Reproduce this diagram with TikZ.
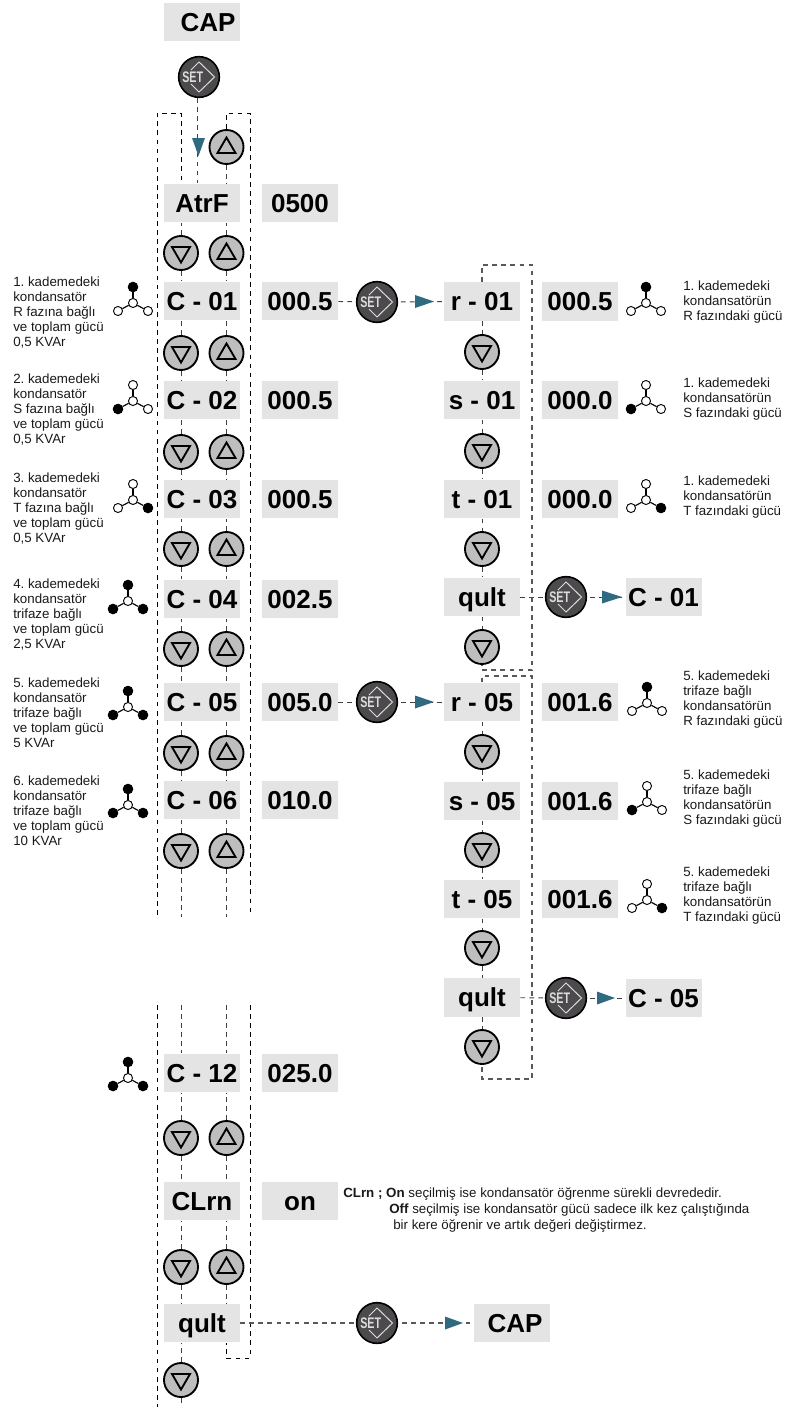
\documentclass[tikz,border=0pt]{standalone}
\usepackage{fontspec}
\setmainfont{Liberation Sans}
\definecolor{boxgrey}{HTML}{E4E4E4}
\definecolor{btngrey}{HTML}{BEBEBE}
\definecolor{setdark}{HTML}{4C4A4C}
\definecolor{setline}{HTML}{DCDCDC}
\definecolor{tealtri}{HTML}{2F6A80}
\tikzset{
  labelbox/.style={fill=boxgrey,minimum width=57pt,minimum height=29pt,inner sep=0pt,text height=14pt,text depth=0pt,font=\fontsize{19.5}{22}\selectfont\bfseries,text=black},
  navbtn/.style={circle,draw=black,line width=1.4pt,fill=btngrey,minimum size=25.5pt,inner sep=0pt},
  navtri/.style={draw=black,line width=1.4pt,line join=miter},
  setbtn/.style={circle,draw=black,line width=1.2pt,fill=setdark,minimum size=30.5pt,inner sep=0pt},
  setdia/.style={draw=setline,line width=0.75pt},
  settxt/.style={inner sep=0pt,text=setline,font=\fontsize{11.5}{12}\selectfont\bfseries},
  dsh/.style={draw=black!75,line width=0.7pt,dash pattern=on 3.6pt off 3.2pt},
  dso/.style={draw=black,line width=0.7pt,dash pattern=on 3.6pt off 3.2pt},
  dsr/.style={draw=black!65,line width=0.85pt,dash pattern=on 3.6pt off 3.2pt},
  note/.style={inner sep=0pt,anchor=north west,align=left,font=\fontsize{10}{11.1}\selectfont,text=black!90},
  wopen/.style={circle,draw=black,line width=0.7pt,fill=white,minimum size=6.8pt,inner sep=0pt},
  wfull/.style={circle,draw=black,line width=0.7pt,fill=black,minimum size=7.2pt,inner sep=0pt},
  wline/.style={draw=black,line width=0.85pt},
}
\newcommand{\btndn}[3]{%
  \node[navbtn] (#1) at (#2,#3) {};
  \draw[navtri,shift={(#1.center)}] (0,9.5) -- (9,-6) -- (-9,-6) -- cycle;}
\newcommand{\btnup}[3]{%
  \node[navbtn] (#1) at (#2,#3) {};
  \draw[navtri,shift={(#1.center)}] (0,-9.5) -- (9,6) -- (-9,6) -- cycle;}
\newcommand{\setb}[3]{%
  \node[setbtn] (#1) at (#2,#3) {};
  \draw[setdia,shift={(#1.center)}] (-8,-7) -- (0,-15) -- (15.5,0) -- (0,15) -- (-8,7);
  \node[settxt] (#1t) at ([xshift=-4.7pt]#1.center) {\scalebox{0.7}[1]{SET}};}
\newcommand{\wye}[6]{%
  \node[wopen] (#1c) at (#2,#3) {};
  \node[#4] (#1a) at (#2,#3-16) {};
  \node[#5] (#1b) at (#2-15,#3+8) {};
  \node[#6] (#1d) at (#2+15,#3+8) {};
  \draw[wline] (#1c) -- (#1a);
  \draw[wline] (#1c) -- (#1b);
  \draw[wline] (#1c) -- (#1d);}
\newcommand{\crow}[5]{%
  \node[labelbox] (c#1) at (202,#4) {#2};
  \node[labelbox] (v#1) at (300,#4) {#3};
  \btndn{d#1}{181}{#5}
  \btnup{u#1}{226.5}{#5}
  \draw[dsh] (d#1.north) -- (d#1.north |- c#1.south);
  \draw[dsh] (u#1.north) -- (u#1.north |- c#1.south);}
\newcommand{\lnk}[2]{\draw[dsh] (#1.south) -- (#1.south |- #2.north);}
\newcommand{\trir}[3]{\fill[tealtri] (#2,#3-6.5) -- (#2+#1,#3) -- (#2,#3+6.5) -- cycle;}
\begin{document}
\frenchspacing
\begin{tikzpicture}[x=0.75pt,y=-0.75pt]
\useasboundingbox (0,0) rectangle (786,1407);
% top
\node[labelbox] (cap0) at (202,22) {\hspace{9pt}CAP};
\setb{set0}{199}{77}
\btnup{ut}{226.5}{147}
% left column rows
\node[labelbox] (cA) at (202,203) {AtrF\hspace{9pt}};
\node[labelbox] (vA) at (300,203) {0500};
\btndn{dA}{181}{253}
\btnup{uA}{226.5}{253}
\draw[dsh] (dA.north) -- (dA.north |- cA.south);
\draw[dsh] (uA.north) -- (uA.north |- cA.south);
\crow{01}{C - 01}{000.5}{301}{353}
\crow{02}{C - 02}{000.5}{400}{452}
\crow{03}{C - 03}{000.5}{499}{549}
\crow{04}{C - 04}{002.5}{599}{649}
\crow{05}{C - 05}{005.0}{702}{753}
\crow{06}{C - 06}{010.0}{800}{851}
\crow{12}{C - 12}{025.0}{1073}{1138}
\crow{L}{CLrn}{on}{1201}{1267}
\node[labelbox] (cQ) at (202,1323) {qult};
\btndn{dQ}{181}{1380}
\draw[dsh] (dQ.north) -- (dQ.north |- cQ.south);
\foreach \a/\b in {dA/c01,uA/c01,d01/c02,u01/c02,d02/c03,u02/c03,d03/c04,u03/c04,d04/c05,u04/c05,d05/c06,u05/c06,d12/cL,u12/cL,dL/cQ,uL/cQ}{\lnk{\a}{\b}}
% outer loops, left column
\coordinate (ltl) at (157,113);
\coordinate (ltr) at (181,113);
\coordinate (rtl) at (226.5,113);
\coordinate (rtr) at (250,113);
\coordinate (lb1) at (157,915);
\coordinate (rb1) at (250,915);
\coordinate (lt2) at (157,1005);
\coordinate (rt2) at (250,1005);
\coordinate (lb2) at (157,1407);
\coordinate (mb2) at (181,1407);
\coordinate (rb2) at (250,1358);
\coordinate (qr2) at (226.5,1358);
\coordinate (ce1) at (181,917);
\coordinate (ce2) at (226.5,917);
\coordinate (cs1) at (181,1005);
\coordinate (cs2) at (226.5,1005);
\coordinate (setx) at (197,0);
\draw[dso] (lb1) -- (ltl) -- (ltr) -- (ltr |- cA.north);
\draw[dso] (ut.north) -- (rtl) -- (rtr) -- (rb1);
\draw[dsh] (ut.south) -- (ut.south |- cA.north);
\draw[dsh] (d06.south) -- (ce1);
\draw[dsh] (u06.south) -- (ce2);
\draw[dsh] (cs1) -- (cs1 |- c12.north);
\draw[dsh] (cs2) -- (cs2 |- c12.north);
\draw[dso] (lt2) -- (lb2);
\draw[dso] (rt2) -- (rb2) -- (qr2) -- (qr2 |- cQ.south);
\draw[dsh] (dQ.south) -- (mb2);
\draw[dsh] (set0.south -| setx) -- (cA.north -| setx);
\fill[tealtri] (192,138) -- (205,138) -- (198.5,156) -- cycle;
% first branch
\setb{s1}{377}{302}
\node[labelbox] (r01) at (482,301.5) {r - 01};
\node[labelbox] (s01) at (482,400) {s - 01};
\node[labelbox] (t01) at (482,499) {t - 01};
\node[labelbox] (q01) at (482,597) {qult};
\btndn{dr1}{482}{352}
\btndn{ds1}{482}{451}
\btndn{dt1}{482}{549}
\btndn{dq1}{482}{647}
\node[labelbox] (vr1) at (580,301.5) {000.5};
\node[labelbox] (vs1) at (580,400) {000.0};
\node[labelbox] (vt1) at (580,499) {000.0};
\setb{s2}{566}{597}
\node[labelbox] (c01b) at (663.5,597) {C - 01};
\draw[dsh] (v01) -- (s1);
\draw[dsh,shorten <=2pt] (s1) -- (r01);
\trir{19}{415}{301.5}
\draw[dsh] (q01) -- (s2);
\draw[dsh,shorten <=2pt] (s2) -- (c01b);
\trir{20}{602}{597}
\foreach \a/\b in {r01/dr1,s01/ds1,t01/dt1,q01/dq1}{\draw[dsh] (\a.south) -- (\b.north);}
\foreach \a/\b in {dr1/s01,ds1/t01,dt1/q01}{\draw[dsh] (\a.south) -- (\b.north);}
\coordinate (b1a) at (482,265);
\coordinate (b1b) at (532,265);
\coordinate (b1c) at (532,670);
\coordinate (b1d) at (482,670);
\draw[dsr] (r01.north) -- (b1a) -- (b1b) -- (b1c) -- (b1d) -- (dq1.south);
% second branch
\setb{s3}{377}{702}
\node[labelbox] (r05) at (482,702) {r - 05};
\node[labelbox] (s05) at (482,801) {s - 05};
\node[labelbox] (t05) at (482,899) {t - 05};
\node[labelbox] (q05) at (482,997.5) {qult};
\btndn{dr5}{482}{752}
\btndn{ds5}{482}{850}
\btndn{dt5}{482}{948}
\btndn{dq5}{482}{1047}
\node[labelbox] (vr5) at (580,702) {001.6};
\node[labelbox] (vs5) at (580,801) {001.6};
\node[labelbox] (vt5) at (580,899) {001.6};
\setb{s4}{566}{998}
\node[labelbox] (c05b) at (663.5,998) {C - 05};
\draw[dsh] (v05) -- (s3);
\draw[dsh,shorten <=2pt] (s3) -- (r05);
\trir{19}{415}{702}
\draw[dsh] (q05) -- (s4);
\draw[dsh,shorten <=2pt] (s4) -- (c05b);
\trir{18}{597}{998}
\foreach \a/\b in {r05/dr5,s05/ds5,t05/dt5,q05/dq5}{\draw[dsh] (\a.south) -- (\b.north);}
\foreach \a/\b in {dr5/s05,ds5/t05,dt5/q05}{\draw[dsh] (\a.south) -- (\b.north);}
\coordinate (b2a) at (482,676);
\coordinate (b2b) at (532,676);
\coordinate (b2c) at (532,1079);
\coordinate (b2d) at (482,1079);
\draw[dsr] (r05.north) -- (b2a) -- (b2b) -- (b2c) -- (b2d) -- (dq5.south);
% last row
\setb{s5}{377}{1323}
\node[labelbox] (capb) at (512,1323) {\hspace{4.5pt}CAP};
\draw[dsr] (cQ) -- (s5);
\draw[dsr,shorten <=3pt] (s5) -- (capb);
\trir{18}{445}{1323}
% wye symbols
\wye{w1}{133}{303}{wfull}{wopen}{wopen}
\wye{w2}{133}{401}{wopen}{wfull}{wopen}
\wye{w3}{133}{500}{wopen}{wopen}{wfull}
\wye{w4}{128}{601}{wfull}{wfull}{wfull}
\wye{w5}{128}{707}{wfull}{wfull}{wfull}
\wye{w6}{128}{805}{wfull}{wfull}{wfull}
\wye{w7}{128}{1078}{wfull}{wfull}{wfull}
\wye{w8}{646}{303}{wfull}{wopen}{wopen}
\wye{w9}{646}{401}{wopen}{wfull}{wopen}
\wye{w10}{646}{500}{wopen}{wopen}{wfull}
\wye{w11}{647}{703}{wfull}{wopen}{wopen}
\wye{w12}{647}{802}{wopen}{wfull}{wopen}
\wye{w13}{647}{900}{wopen}{wopen}{wfull}
% left notes
\node[note] (n1) at (13,277) {1. kademedeki\\kondansatör\\R fazına bağlı\\ve toplam gücü\\0,5 KVAr};
\node[note] (n2) at (13,374) {2. kademedeki\\kondansatör\\S fazına bağlı\\ve toplam gücü\\0,5 KVAr};
\node[note] (n3) at (13,473) {3. kademedeki\\kondansatör\\T fazına bağlı\\ve toplam gücü\\0,5 KVAr};
\node[note] (n4) at (13,579) {4. kademedeki\\kondansatör\\trifaze bağlı\\ve toplam gücü\\2,5 KVAr};
\node[note] (n5) at (13,678) {5. kademedeki\\kondansatör\\trifaze bağlı\\ve toplam gücü\\5 KVAr};
\node[note] (n6) at (13,776) {6. kademedeki\\kondansatör\\trifaze bağlı\\ve toplam gücü\\10 KVAr};
% right notes
\node[note] (n7) at (683,281) {1. kademedeki\\kondansatörün\\R fazındaki gücü};
\node[note] (n8) at (683,378) {1. kademedeki\\kondansatörün\\S fazındaki gücü};
\node[note] (n9) at (683,476) {1. kademedeki\\kondansatörün\\T fazındaki gücü};
\node[note] (n10) at (683,671) {5. kademedeki\\trifaze bağlı\\kondansatörün\\R fazındaki gücü};
\node[note] (n11) at (683,770) {5. kademedeki\\trifaze bağlı\\kondansatörün\\S fazındaki gücü};
\node[note] (n12) at (683,867) {5. kademedeki\\trifaze bağlı\\kondansatörün\\T fazındaki gücü};
% CLrn note
\node[note,font=\fontsize{10}{12}\selectfont] (n13) at (343,1187) {\textbf{CLrn ; On} seçilmiş ise kondansatör öğrenme sürekli devrededir.\\\hspace*{34.5pt}\textbf{Off} seçilmiş ise kondansatör gücü sadece ilk kez çalıştığında\\\hspace*{37.5pt}bir kere öğrenir ve artık değeri değiştirmez.};
\end{tikzpicture}
\end{document}
